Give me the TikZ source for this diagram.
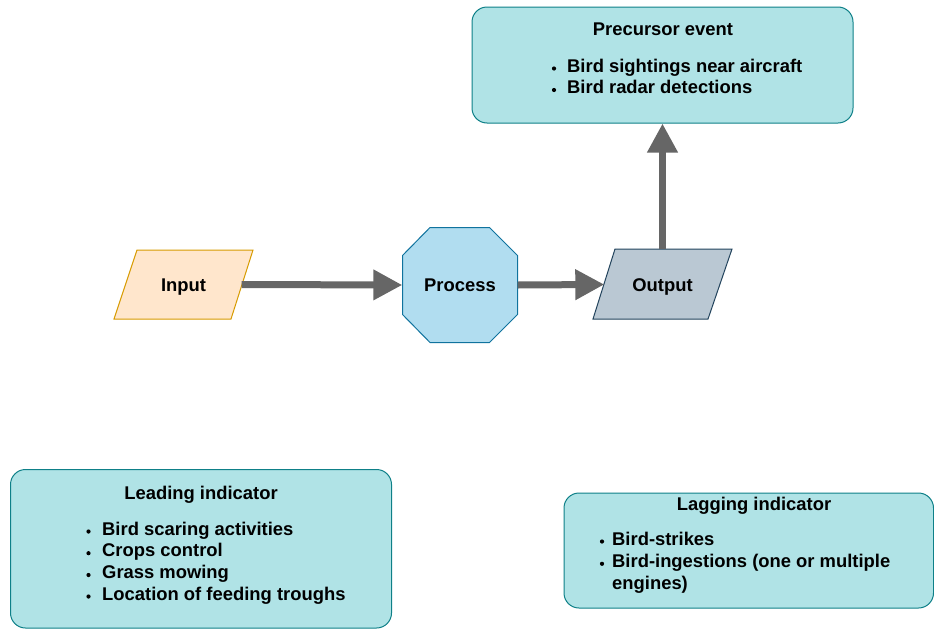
\documentclass[tikz,border=0pt]{standalone}
\usepackage{fontspec}
\setmainfont{Liberation Sans}
\usetikzlibrary{arrows.meta}

\definecolor{inFill}{HTML}{FFE6CC}
\definecolor{inLine}{HTML}{D79B00}
\definecolor{procFill}{HTML}{B1DDF0}
\definecolor{procLine}{HTML}{10739E}
\definecolor{outFill}{HTML}{BAC8D3}
\definecolor{outLine}{HTML}{23445D}
\definecolor{noteFill}{HTML}{B0E3E6}
\definecolor{noteLine}{HTML}{0E8088}
\definecolor{flowGray}{HTML}{666666}

\tikzset{
  x=1pt, y=-1pt,
  txt/.style={font=\fontsize{18.4}{22}\selectfont\bfseries, inner sep=0pt, text=black},
  label/.style={txt, minimum height=70pt, text height=13.2pt, text depth=0pt},
  notebox/.style={draw=noteLine, fill=noteFill, line width=1pt, rounded corners=15pt, inner sep=0pt},
  flow/.style={draw=flowGray, line width=7pt, -{Triangle[length=29pt,width=29pt]}},
  bul/.style={fill=black},
}

\begin{document}
\begin{tikzpicture}
\useasboundingbox (0,0) rectangle (934,629);

% shape outlines
\draw[fill=inFill, draw=inLine, line width=1pt]
  (137,250) -- (253,250) -- (231,319) -- (114,319) -- cycle;
\draw[fill=procFill, draw=procLine, line width=1pt]
  (430,227.5) -- (489.5,227.5) -- (517.5,255.5) -- (517.5,314.5) -- (489.5,342.5)
  -- (430,342.5) -- (402.5,314.5) -- (402.5,255.5) -- cycle;
\draw[fill=outFill, draw=outLine, line width=1pt]
  (615,249) -- (732,249) -- (708,319) -- (593,319) -- cycle;

% labelled nodes
\node[label, minimum width=116pt] (input) at (183.5,284.5) {Input};
\node[label, minimum width=115pt, minimum height=115pt] (process) at (460,285) {Process};
\node[label, minimum width=116pt] (output) at (662.5,284.5) {Output};

% note boxes
\node[notebox, minimum width=381pt, minimum height=116pt] (prec) at (662.5,65) {};
\node[notebox, minimum width=381pt, minimum height=158.5pt] (lead) at (201,548.75) {};
\node[notebox, minimum width=369.5pt, minimum height=115pt] (lag) at (748.75,550.5) {};

% connectors
\draw[flow] (input.east) -- (process.west);
\draw[flow] (process.east) -- (output.west);
\draw[flow] (output.north) -- (prec.south);

% precursor event text
\node[txt, anchor=base] (precT) at (663,35) {Precursor event};
\node[txt, anchor=base west] (prec1) at (567,72) {Bird sightings near aircraft};
\node[txt, anchor=base west] (prec2) at (567,93.5) {Bird radar detections};
\fill[bul] (554,68.5) circle (2.1);
\fill[bul] (554,90) circle (2.1);

% leading indicator text
\node[txt, anchor=base] (leadT) at (201,499) {Leading indicator};
\node[txt, anchor=base west] (lead1) at (102,535) {Bird scaring activities};
\node[txt, anchor=base west] (lead2) at (102,556.7) {Crops control};
\node[txt, anchor=base west] (lead3) at (102,578.5) {Grass mowing};
\node[txt, anchor=base west] (lead4) at (102,600) {Location of feeding troughs};
\fill[bul] (88.5,531.5) circle (2.1);
\fill[bul] (88.5,553.2) circle (2.1);
\fill[bul] (88.5,575) circle (2.1);
\fill[bul] (88.5,596.5) circle (2.1);

% lagging indicator text
\node[txt, anchor=base] (lagT) at (754,510.5) {Lagging indicator};
\node[txt, anchor=base west] (lag1) at (612,545) {Bird-strikes};
\node[txt, anchor=base west] (lag2) at (612,567.3) {Bird-ingestions (one or multiple};
\node[txt, anchor=base west] (lag3) at (612,589.5) {engines)};
\fill[bul] (602,541.5) circle (2.1);
\fill[bul] (602,563.8) circle (2.1);
\end{tikzpicture}
\end{document}
